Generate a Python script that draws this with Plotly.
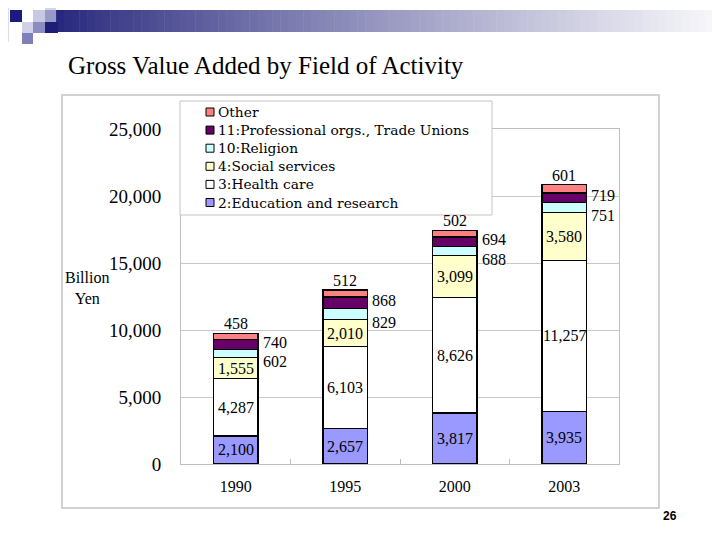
import plotly.graph_objects as go

# ---------------- data ----------------
years = ["1990", "1995", "2000", "2003"]
education = [2100, 2657, 3817, 3935]
health = [4287, 6103, 8626, 11257]
social = [1555, 2010, 3099, 3580]
religion = [602, 829, 688, 751]
professional = [740, 868, 694, 719]
other = [458, 512, 502, 601]

series_names = ["2:Education and research", "3:Health care", "4:Social services",
                "10:Religion", "11:Professional orgs., Trade Unions", "Other"]
series_values = [education, health, social, religion, professional, other]
series_colors = ["#9999FF", "#FFFFFF", "#FFFFCC", "#CCFFFF", "#660066", "#FF8080"]
# label placement per series: inside / right / top
label_modes = ["inside", "inside", "inside", "right_low", "right", "top"]

y_ticks = [0, 5000, 10000, 15000, 20000, 25000]
y_tick_text = ["0", "5,000", "10,000", "15,000", "20,000", "25,000"]

title_text = "Gross Value Added by Field of Activity"
y_title = "Billion<br>Yen"
page_no = "26"

SERIF = "Liberation Serif, Times New Roman, serif"
LEG_FONT = "DejaVu Serif, serif"

# target geometry in screenshot pixels; page body offsets the figure by 8px
W, H = 720, 540
OFF = 8
PX0, PX1, PY0, PY1 = 181, 619, 129, 464


def px(x):
    return (x - PX0) / (PX1 - PX0)


def py(y):
    return (PY1 - y) / (PY1 - PY0)


fig = go.Figure()
for name, vals, col in zip(series_names, series_values, series_colors):
    fig.add_trace(go.Bar(
        x=years, y=vals, name=name, width=0.41,
        marker=dict(color=col, line=dict(color="#000000", width=1.5)),
        showlegend=False, hoverinfo="x+y+name",
    ))

annotations = []
base = [0] * len(years)
for vals, mode in zip(series_values, label_modes):
    for i, yr in enumerate(years):
        v = vals[i]
        mid = base[i] + v / 2
        txt = f"{v:,}"
        # category axis: annotation x is the category's serial number
        if mode == "inside":
            annotations.append(dict(x=i, y=mid, xref="x", yref="y", text=txt,
                                    showarrow=False, font=dict(family=SERIF, size=16, color="#000"),
                                    xanchor="center", yanchor="middle"))
        elif mode in ("right", "right_low"):
            annotations.append(dict(x=i, y=mid, xref="x", yref="y", text=txt,
                                    showarrow=False, font=dict(family=SERIF, size=16, color="#000"),
                                    xanchor="left", yanchor="middle", xshift=25,
                                    yshift=-8 if mode == "right_low" else 2))
        else:
            annotations.append(dict(x=i, y=base[i] + v, xref="x", yref="y", text=txt,
                                    showarrow=False, font=dict(family=SERIF, size=16, color="#000"),
                                    xanchor="center", yanchor="bottom", yshift=-1))
        base[i] += v

shapes = []
# header gradient bar
n = 90
gx0, gx1 = 33, 728
c0 = (28, 28, 118)
c1 = (250, 250, 252)
for k in range(n):
    t = k / (n - 1)
    t2 = t ** 0.85
    col = tuple(int(round(c0[j] + (c1[j] - c0[j]) * t2)) for j in range(3))
    xa = gx0 + (gx1 - gx0) * k / n
    xb = gx0 + (gx1 - gx0) * (k + 1) / n + 0.5
    shapes.append(dict(type="rect", xref="paper", yref="paper", x0=px(xa), x1=px(xb),
                       y0=py(32), y1=py(10), line=dict(width=0),
                       fillcolor="rgb(%d,%d,%d)" % col, layer="below"))
# decorative squares
squares = [
    (0, 0, 9, 42, "#dcdcee"),
    (10, 10, 22, 22, "#1a1a80"),
    (22, 10, 33, 22, "#ffffff"),
    (33, 10, 45, 22, "#c8c8e2"),
    (45, 0, 56, 10, "#d4d4ea"),
    (45, 10, 56, 22, "#9a9ac8"),
    (45, 22, 58, 33, "#1e1e78"),
    (22, 22, 33, 33, "#d0d0e6"),
    (33, 22, 45, 33, "#8c8cc0"),
    (22, 33, 33, 44, "#8080b8"),
]
for (xa, ya, xb, yb, col) in squares:
    shapes.append(dict(type="rect", xref="paper", yref="paper", x0=px(xa), x1=px(xb),
                       y0=py(yb), y1=py(ya), line=dict(width=0), fillcolor=col, layer="below"))

# outer chart frame
shapes.append(dict(type="rect", xref="paper", yref="paper", x0=px(62), x1=px(659),
                   y0=py(508), y1=py(95), line=dict(color="#c4c4c4", width=1.5),
                   fillcolor="rgba(0,0,0,0)", layer="below"))

# custom legend box (top row = last series)
shapes.append(dict(type="rect", xref="paper", yref="paper", x0=px(180), x1=px(492),
                   y0=py(215), y1=py(101), line=dict(color="#c4c4c4", width=1),
                   fillcolor="#ffffff", layer="above"))
row_y0 = 112
row_dy = 18.1
for r, (name, col) in enumerate(zip(reversed(series_names), reversed(series_colors))):
    cy = row_y0 + r * row_dy
    shapes.append(dict(type="rect", xref="paper", yref="paper", x0=px(206), x1=px(214),
                       y0=py(cy + 4), y1=py(cy - 4), line=dict(color="#000000", width=1),
                       fillcolor=col, layer="above"))
    annotations.append(dict(x=px(216), y=py(cy), xref="paper", yref="paper", text=name,
                            showarrow=False, xanchor="left", yanchor="middle",
                            font=dict(family=LEG_FONT, size=13.8, color="#000")))

# title, axis title, page number
annotations.append(dict(x=px(66), y=py(65), xref="paper", yref="paper", text=title_text,
                        showarrow=False, xanchor="left", yanchor="middle",
                        font=dict(family=SERIF, size=25, color="#000")))
annotations.append(dict(x=px(87), y=py(288), xref="paper", yref="paper", text=y_title,
                        showarrow=False, xanchor="center", yanchor="middle",
                        font=dict(family=SERIF, size=16, color="#000")))
annotations.append(dict(x=px(670), y=py(516), xref="paper", yref="paper", text="<b>" + page_no + "</b>",
                        showarrow=False, xanchor="center", yanchor="middle",
                        font=dict(family="Liberation Sans, Arial, sans-serif", size=12, color="#000")))

fig.update_layout(
    width=W, height=H,
    barmode="stack",
    paper_bgcolor="#ffffff", plot_bgcolor="#ffffff",
    margin=dict(l=PX0 - OFF, r=W - PX1 + OFF, t=PY0 - OFF, b=H - PY1 + OFF, pad=0),
    showlegend=False,
    shapes=shapes,
    annotations=annotations,
    xaxis=dict(type="category", categoryorder="array", categoryarray=years,
               showgrid=False, showline=True, linecolor="#bdbdbd", linewidth=1,
               mirror=True, ticks="inside", tickson="boundaries", ticklen=5, tickcolor="#bdbdbd",
               tickangle=0, automargin=False,
               tickfont=dict(family=SERIF, size=16, color="#000"), ticklabelstandoff=8,
               fixedrange=True),
    yaxis=dict(range=[0, 25000], tickvals=y_ticks, ticktext=y_tick_text, showgrid=True,
               gridcolor="#c8c8c8", gridwidth=1, showline=True, linecolor="#bdbdbd", linewidth=1,
               mirror=True, zeroline=False, ticks="", automargin=False,
               tickfont=dict(family=SERIF, size=19, color="#000"), ticklabelstandoff=15,
               fixedrange=True),
    font=dict(family=SERIF),
)

fig.write_html("out.html")
